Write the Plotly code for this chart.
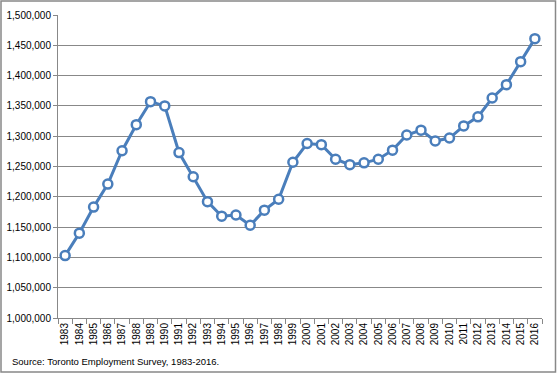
import plotly.graph_objects as go

years = [str(y) for y in range(1983, 2017)]
employment = [
    1103000, 1140000, 1183000, 1221000, 1276000, 1319000, 1357000, 1350000,
    1273000, 1233000, 1192000, 1168000, 1170000, 1153000, 1178000, 1196000,
    1257000, 1288000, 1286000, 1262000, 1253000, 1256000, 1262000, 1277000,
    1302000, 1310000, 1292000, 1297000, 1317000, 1332000, 1363000, 1385000,
    1423000, 1461000,
]
y_ticks = list(range(1000000, 1500001, 50000))
source_text = "Source: Toronto Employment Survey, 1983-2016."

blue = "#4A7EBB"
grid = "#888888"
font_family = "Arial, Liberation Sans, sans-serif"

fig = go.Figure()
fig.add_trace(go.Scatter(
    x=years, y=employment, mode="lines+markers",
    line=dict(color=blue, width=3),
    marker=dict(symbol="circle", size=9, color="white",
                line=dict(color=blue, width=2.5)),
    showlegend=False, hoverinfo="x+y",
))

L, R, T, B = 58, 15, 15, 56
W, H = 557, 374
pw, ph = W - L - R, H - T - B

def px_x(p):
    return (p - L) / pw

def px_y(p):
    return (H - B - p) / ph

fig.update_layout(
    width=W, height=H,
    margin=dict(l=L, r=R, t=T, b=B, pad=0, autoexpand=False),
    paper_bgcolor="white", plot_bgcolor="white",
    font=dict(family=font_family, size=10, color="black"),
    xaxis=dict(
        type="category", tickangle=-90, ticks="outside", tickson="boundaries",
        ticklen=5, tickcolor=grid, showgrid=False, showline=True,
        linecolor=grid, linewidth=1, tickfont=dict(size=10),
        range=[-0.5, len(years) - 0.5], fixedrange=True, automargin=False,
    ),
    yaxis=dict(
        range=[1000000, 1500000], tickvals=y_ticks, tickformat=",",
        ticks="outside", ticklen=4, tickcolor=grid,
        showgrid=True, gridcolor=grid, gridwidth=1,
        showline=True, linecolor=grid, linewidth=1,
        zeroline=False, tickfont=dict(size=10), fixedrange=True,
        automargin=False,
    ),
    shapes=[dict(
        type="rect", xref="paper", yref="paper",
        x0=px_x(1), x1=px_x(W - 1.5), y0=px_y(H - 2), y1=px_y(1),
        line=dict(color="#888888", width=1.5), fillcolor="rgba(0,0,0,0)",
        layer="below",
    )],
    annotations=[dict(
        text=source_text, xref="paper", yref="paper",
        x=px_x(10), y=px_y(361), xanchor="left", yanchor="middle",
        showarrow=False, font=dict(size=9.5, family=font_family),
    )],
)

fig.write_html(
    "out.html",
    config={"displayModeBar": False},
    post_script="document.body.style.margin='0';document.body.style.overflow='hidden';",
)
